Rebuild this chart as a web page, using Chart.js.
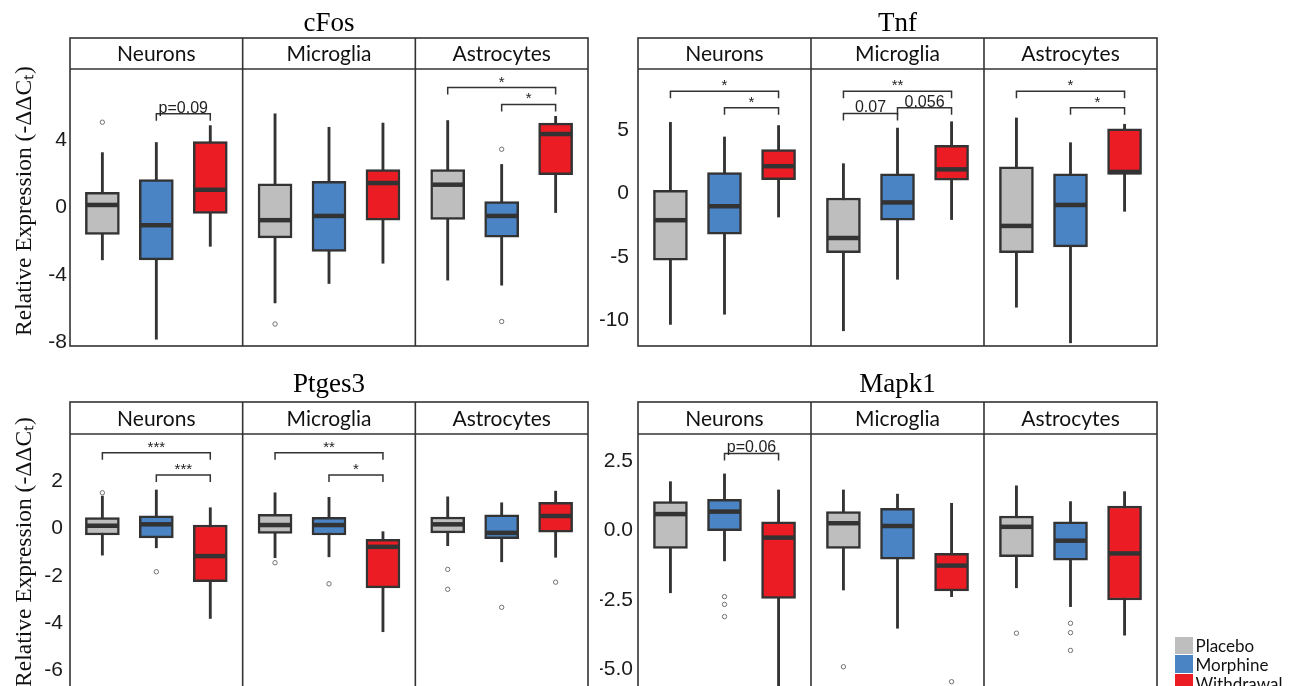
<!DOCTYPE html>
<html>
<head>
<meta charset="utf-8">
<script src="https://cdn.jsdelivr.net/npm/chart.js@4.4.1/dist/chart.umd.min.js"></script>
<style>
    html, body { margin: 0; padding: 0; background: #fff; }
    body { width: 1290px; height: 686px; overflow: hidden; position: relative; }
    .panel { position: absolute; }
    #legend { position: absolute; left: 1175px; top: 636px; font-family: Lato, sans-serif; font-size: 17px; color: #111; }
    #legend .row { height: 18.8px; display: flex; align-items: center; white-space: nowrap; }
    #legend .sw { width: 17.5px; height: 17.5px; margin-right: 3px; flex: none; }
</style>
</head>
<body>
<div class="panel" style="left:0;top:0;width:600px;height:360px"><canvas id="cfos"></canvas></div>
<div class="panel" style="left:600px;top:0;width:690px;height:360px"><canvas id="tnf"></canvas></div>
<div class="panel" style="left:0;top:360px;width:600px;height:360px"><canvas id="ptges3"></canvas></div>
<div class="panel" style="left:600px;top:360px;width:690px;height:360px"><canvas id="mapk1"></canvas></div>
<div id="legend"></div>
<script>
const facets = ['Neurons', 'Microglia', 'Astrocytes'];
const groups = ['Placebo', 'Morphine', 'Withdrawal'];

// box summaries per facet: [lower whisker, Q1, median, Q3, upper whisker]
const cfosPlacebo = [[-3.1, -1.6, 0.15, 0.9, 3.25], [-5.65, -1.8, -0.75, 1.4, 5.55], [-4.3, -0.7, 1.35, 2.25, 5.15]];
const cfosMorphine = [[-7.8, -3.1, -1.05, 1.65, 3.85], [-4.5, -2.6, -0.5, 1.55, 4.75], [-4.6, -1.75, -0.5, 0.35, 2.55]];
const cfosWithdrawal = [[-2.3, -0.35, 1.05, 3.9, 4.85], [-3.3, -0.75, 1.45, 2.25, 5.0], [-0.3, 1.95, 4.35, 5.0, 5.4]];
// outliers: [facet, group, value]
const cfosOutliers = [[0, 0, 5.05], [1, 0, -6.9], [2, 1, 3.45], [2, 1, -6.75]];
// brackets: [facet, from group, to group, height, label]
const cfosBrackets = [[0, 1, 2, 5.55, 'p=0.09'], [2, 0, 2, 7.1, '*'], [2, 1, 2, 6.1, '*']];
const cfosTicks = [-8, -4, 0, 4];
const cfosRange = [-8.2, 8.2];

const tnfPlacebo = [[-10.3, -5.25, -2.1, 0.25, 5.6], [-10.8, -4.65, -3.5, -0.35, 2.35], [-8.95, -4.65, -2.55, 2.1, 5.95]];
const tnfMorphine = [[-9.5, -3.2, -1.0, 1.65, 4.45], [-6.75, -2.1, -0.7, 1.55, 5.15], [-11.75, -4.2, -0.9, 1.55, 4.0]];
const tnfWithdrawal = [[-1.85, 1.1, 2.15, 3.45, 5.35], [-2.05, 1.05, 1.9, 3.8, 5.65], [-1.4, 1.5, 1.7, 5.1, 5.45]];
const tnfOutliers = [];
const tnfBrackets = [[0, 0, 2, 8.05, '*'], [0, 1, 2, 6.75, '*'], [1, 0, 2, 8.05, '**'], [1, 0, 1, 6.3, '0.07'],
    [1, 1, 2, 6.75, '0.056'], [2, 0, 2, 8.05, '*'], [2, 1, 2, 6.75, '*']];
const tnfTicks = [-10, -5, 0, 5];
const tnfRange = [-12, 9.8];

const ptgesPlacebo = [[-1.13, -0.28, 0.11, 0.45, 1.36], [-1.24, -0.21, 0.14, 0.59, 1.5], [-0.73, -0.19, 0.17, 0.48, 1.33]];
const ptgesMorphine = [[-0.82, -0.4, 0.17, 0.53, 1.62], [-1.2, -0.28, 0.14, 0.46, 1.31], [-1.41, -0.44, -0.19, 0.57, 1.08]];
const ptgesWithdrawal = [[-3.8, -2.25, -1.17, 0.14, 0.87], [-4.36, -2.51, -0.78, -0.46, -0.14], [-1.22, -0.16, 0.52, 1.1, 1.57]];
const ptgesOutliers = [[0, 0, 1.5], [0, 1, -1.83], [1, 0, -1.45], [1, 1, -2.34], [2, 0, -1.73], [2, 0, -2.57], [2, 1, -3.33], [2, 2, -2.27]];
const ptgesBrackets = [[0, 0, 2, 3.19, '***'], [0, 1, 2, 2.25, '***'], [1, 0, 2, 3.19, '**'], [1, 1, 2, 2.25, '*']];
const ptgesTicks = [-6, -4, -2, 0, 2];
const ptgesRange = [-7.24, 3.98];

const mapkPlacebo = [[-2.24, -0.64, 0.6, 1.05, 1.77], [-2.14, -0.64, 0.27, 0.69, 1.47], [-2.06, -0.94, 0.14, 0.53, 1.62]];
const mapkMorphine = [[-1.09, 0.0, 0.69, 1.13, 2.05], [-3.52, -1.03, 0.17, 0.81, 1.32], [-2.74, -1.06, -0.36, 0.32, 1.05]];
const mapkWithdrawal = [[-6.0, -2.44, -0.25, 0.32, 1.47], [-2.38, -2.17, -1.26, -0.82, 0.99], [-3.77, -2.5, -0.82, 0.89, 1.41]];
const mapkOutliers = [[0, 1, -2.38], [0, 1, -2.66], [0, 1, -3.1], [1, 0, -4.91], [1, 2, -5.45], [2, 0, -3.7], [2, 1, -3.34], [2, 1, -3.68], [2, 1, -4.32]];
const mapkBrackets = [[0, 1, 2, 2.79, 'p=0.06']];
const mapkTicks = [-5, -2.5, 0, 2.5];
const mapkRange = [-6.11, 3.49];

const groupColors = ['#bebebe', '#4a84c4', '#ec1c24'];
const ink = '#333333';
const yLabel = 'Relative Expression (-ΔΔCₜ)';

// each facet spans 3.2 units on the x axis, boxes sit at 0.6, 1.6, 2.6 inside it
function xPos(f, g) {
    return 3.2 * f + 0.6 + g;
}

// facet strips, panel frames, significance brackets and the shared y label
const facetPlugin = {
    id: 'facetStrips',
    afterDraw(chart, args, opts) {
        const { ctx, chartArea: a, scales: { x, y } } = chart;
        const stripTop = a.top - opts.strip;
        ctx.save();
        ctx.strokeStyle = ink;
        ctx.lineWidth = 1.6;
        ctx.strokeRect(a.left, stripTop, a.right - a.left, a.bottom - stripTop);
        ctx.beginPath();
        ctx.moveTo(a.left, a.top);
        ctx.lineTo(a.right, a.top);
        ctx.stroke();

        ctx.fillStyle = '#111';
        ctx.font = '21px Lato';
        ctx.textAlign = 'center';
        ctx.textBaseline = 'middle';
        facets.forEach((name, f) => {
            if (f > 0) {
                const xx = x.getPixelForValue(3.2 * f);
                ctx.beginPath();
                ctx.moveTo(xx, stripTop);
                ctx.lineTo(xx, a.bottom);
                ctx.stroke();
            }
            ctx.fillText(name, x.getPixelForValue(3.2 * f + 1.6), stripTop + opts.strip / 2 + 1);
        });

        // brackets
        ctx.lineWidth = 1.5;
        ctx.textBaseline = 'alphabetic';
        opts.brackets.forEach(b => {
            const x1 = x.getPixelForValue(xPos(b[0], b[1]));
            const x2 = x.getPixelForValue(xPos(b[0], b[2]));
            const yy = y.getPixelForValue(b[3]);
            ctx.beginPath();
            ctx.moveTo(x1, yy + 7);
            ctx.lineTo(x1, yy);
            ctx.lineTo(x2, yy);
            ctx.lineTo(x2, yy + 7);
            ctx.stroke();
            ctx.fillStyle = '#222';
            ctx.font = (b[4].startsWith('*') ? '15px' : '16px') + ' "Liberation Sans"';
            ctx.fillText(b[4], (x1 + x2) / 2, yy - 1);
        });

        // rotated y label for the left column
        if (opts.yLabelY) {
            ctx.translate(24.4, opts.yLabelY);
            ctx.rotate(-Math.PI / 2);
            ctx.fillStyle = '#111';
            ctx.font = '23.5px "Liberation Serif"';
            ctx.textAlign = 'center';
            ctx.textBaseline = 'middle';
            ctx.fillText(yLabel, 0, 0);
        }
        ctx.restore();
    }
};

function makeChart(id, title, boxes, outliers, brackets, ticks, range, layout) {
    const datasets = [];
    groups.forEach((name, g) => {
        const rows = boxes[g];
        // whisker drawn behind the box
        datasets.push({
            type: 'bar',
            label: name + ' whisker',
            data: rows.map((r, f) => ({ x: xPos(f, g), y: [r[0], r[4]] })),
            backgroundColor: ink,
            barThickness: 2.2,
            grouped: false,
            order: 3
        });
        datasets.push({
            type: 'bar',
            label: name,
            data: rows.map((r, f) => ({ x: xPos(f, g), y: [r[1], r[3]] })),
            backgroundColor: groupColors[g],
            borderColor: ink,
            borderWidth: 2.5,
            borderSkipped: false,
            barThickness: 34,
            grouped: false,
            order: 2
        });
        datasets.push({
            type: 'scatter',
            label: name + ' median',
            data: rows.map((r, f) => ({ x: xPos(f, g), y: r[2] })),
            pointStyle: 'line',
            pointRadius: 15.5,
            borderColor: ink,
            borderWidth: 4.5,
            order: 1
        });
    });
    datasets.push({
        type: 'scatter',
        label: 'outliers',
        data: outliers.map(o => ({ x: xPos(o[0], o[1]), y: o[2] })),
        pointStyle: 'circle',
        pointRadius: 2.2,
        borderColor: '#707070',
        borderWidth: 1,
        backgroundColor: '#fff',
        order: 0
    });

    return new Chart(document.getElementById(id), {
        type: 'bar',
        data: { datasets: datasets },
        plugins: [facetPlugin],
        options: {
            responsive: true,
            maintainAspectRatio: false,
            animation: false,
            events: [],
            layout: { autoPadding: false, padding: { left: 0, right: layout.right, top: 0, bottom: layout.bottom } },
            plugins: {
                legend: { display: false },
                tooltip: { enabled: false },
                title: {
                    display: true,
                    fullSize: false,
                    text: title,
                    color: '#000',
                    font: { family: 'Liberation Serif', size: 27, weight: 'normal' },
                    padding: { top: layout.titleTop, bottom: layout.titleBottom }
                },
                facetStrips: { strip: layout.strip, brackets: brackets, yLabelY: layout.yLabelY }
            },
            scales: {
                x: { type: 'linear', min: 0, max: 9.6, offset: false, display: false },
                y: {
                    min: range[0],
                    max: range[1],
                    afterBuildTicks: s => { s.ticks = ticks.map(v => ({ value: v })); },
                    afterFit: s => {
                        // fixed axis width, and no extra room for the end labels
                        s.width = layout.axisWidth;
                        s.paddingTop = 0;
                        s.paddingBottom = 0;
                    },
                    grid: { display: false, drawTicks: false },
                    border: { display: false },
                    ticks: {
                        color: '#1a1a1a',
                        padding: layout.tickPad,
                        font: { family: 'Liberation Sans', size: 21 },
                        callback: v => layout.decimals ? v.toFixed(layout.decimals) : String(v)
                    }
                }
            }
        }
    });
}

const topLayout = { titleTop: 7.8, titleBottom: 28.8, strip: 31, bottom: 14 };
const bottomLayout = { titleTop: 8.8, titleBottom: 32.8, strip: 32, bottom: 20 };

makeChart('cfos', 'cFos', [cfosPlacebo, cfosMorphine, cfosWithdrawal], cfosOutliers, cfosBrackets, cfosTicks, cfosRange,
    Object.assign({ right: 12, axisWidth: 70, tickPad: 3, yLabelY: 201, decimals: 0 }, topLayout));
makeChart('tnf', 'Tnf', [tnfPlacebo, tnfMorphine, tnfWithdrawal], tnfOutliers, tnfBrackets, tnfTicks, tnfRange,
    Object.assign({ right: 133, axisWidth: 38, tickPad: 9, yLabelY: 0, decimals: 0 }, topLayout));
makeChart('ptges3', 'Ptges3', [ptgesPlacebo, ptgesMorphine, ptgesWithdrawal], ptgesOutliers, ptgesBrackets, ptgesTicks, ptgesRange,
    Object.assign({ right: 12, axisWidth: 70, tickPad: 7, yLabelY: 192, decimals: 0 }, bottomLayout));
makeChart('mapk1', 'Mapk1', [mapkPlacebo, mapkMorphine, mapkWithdrawal], mapkOutliers, mapkBrackets, mapkTicks, mapkRange,
    Object.assign({ right: 133, axisWidth: 38, tickPad: 5, yLabelY: 0, decimals: 1 }, bottomLayout));

// legend
const legend = document.getElementById('legend');
groups.forEach((name, g) => {
    const row = document.createElement('div');
    row.className = 'row';
    row.innerHTML = '<span class="sw" style="background:' + groupColors[g] + '"></span><span>' + name + '</span>';
    legend.appendChild(row);
});
</script>
</body>
</html>
